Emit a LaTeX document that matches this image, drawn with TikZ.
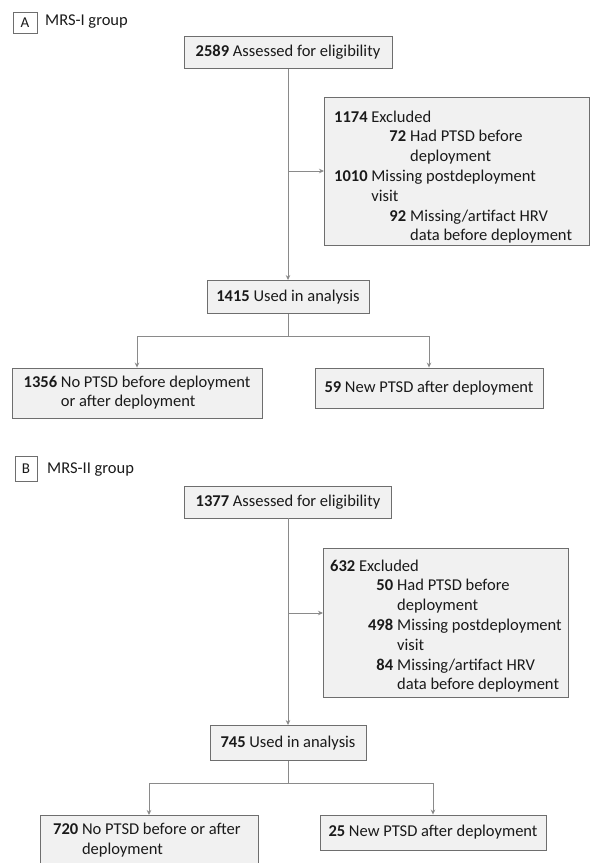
\documentclass[tikz,border=0pt]{standalone}
\usepackage{fontspec}
\setmainfont{Carlito}
\usetikzlibrary{arrows.meta}
\definecolor{txt}{HTML}{1A1A1A}
\definecolor{bordc}{HTML}{6E6E6E}
\definecolor{boxfill}{HTML}{F1F1F1}
\definecolor{linec}{HTML}{8A8A8A}
\begin{document}
\begin{tikzpicture}[x=1pt,y=-1pt,
  font=\fontsize{16.5}{19.5}\selectfont,
  box/.style={draw=bordc, line width=0.9pt, fill=boxfill, inner sep=0pt, align=center, text=txt},
  lab/.style={draw=bordc, line width=0.9pt, fill=white, inner sep=0pt, text=txt, font=\fontsize{15}{17}\selectfont},
  plain/.style={inner sep=0pt, text=txt},
  exc/.style={plain, font=\fontsize{16.5}{19.8}\selectfont},
  conn/.style={draw=linec, line width=0.9pt},
  arr/.style={conn, -{Stealth[length=5pt,width=4.5pt]}}]
\useasboundingbox (0,0) rectangle (591,863);
% ---------- Panel A ----------
\node[lab, minimum width=24, minimum height=21] (la) at (25,22.5) {A};
\node[plain, anchor=west] (ta) at (45,21.5) {MRS-I group};
\node[box, minimum width=208, minimum height=32] (a1) at (288,52.5) {\textbf{2589} Assessed for eligibility};
\node[box, minimum width=265, minimum height=148, anchor=north west] (a2) at (324,97) {};
\node[exc, anchor=north west] (a2t) at (334,108) {%
\begin{tabular}{@{}r@{\hspace{4pt}}l@{}}
\multicolumn{2}{@{}l@{}}{\textbf{1174} Excluded}\\
\makebox[72pt][r]{\textbf{72}} & Had PTSD before\\
 & deployment\\
\multicolumn{2}{@{}l@{}}{\textbf{1010} Missing postdeployment}\\
\multicolumn{2}{@{}l@{}}{\phantom{\textbf{1010} }visit}\\
\textbf{92} & Missing/artifact HRV\\
 & data before deployment
\end{tabular}};
\node[box, minimum width=162, minimum height=33] (a3) at (288,297) {\textbf{1415} Used in analysis};
\node[box, minimum width=250, minimum height=50] (a4) at (137,393) {%
\begin{tabular}{@{}r@{ }l@{}}\textbf{1356} & No PTSD before deployment\\ & or after deployment\end{tabular}};
\node[box, minimum width=228, minimum height=40] (a5) at (429,388) {\textbf{59} New PTSD after deployment};
\coordinate (ja) at (288,171);
\draw[arr] (a1.south) -- (a3.north);
\draw[arr] (ja) -- (ja -| a2.west);
\draw[conn] (a3.south) -- ++(0,22) coordinate (sa);
\draw[arr] (sa) -| (a4.north);
\draw[arr] (sa) -| (a5.north);
% ---------- Panel B ----------
\node[lab, minimum width=22, minimum height=25] (lb) at (26,468.5) {B};
\node[plain, anchor=west] (tb) at (47,469.5) {MRS-II group};
\node[box, minimum width=207, minimum height=32] (b1) at (288,502) {\textbf{1377} Assessed for eligibility};
\node[box, minimum width=245, minimum height=149, anchor=north west] (b2) at (323,548) {};
\node[exc, anchor=north west] (b2t) at (330,557) {%
\begin{tabular}{@{}r@{\hspace{4pt}}l@{}}
\multicolumn{2}{@{}l@{}}{\textbf{632} Excluded}\\
\makebox[63pt][r]{\textbf{50}} & Had PTSD before\\
 & deployment\\
\textbf{498} & Missing postdeployment\\
 & visit\\
\textbf{84} & Missing/artifact HRV\\
 & data before deployment
\end{tabular}};
\node[box, minimum width=156, minimum height=35] (b3) at (288,743) {\textbf{745} Used in analysis};
\node[box, minimum width=218, minimum height=56, anchor=north] (b4) at (149,815) {};
\node[plain, anchor=north west] (b4t) at (53,821) {%
\begin{tabular}{@{}r@{ }l@{}}\textbf{720} & No PTSD before or after\\ & deployment\end{tabular}};
\node[box, minimum width=226, minimum height=35] (b5) at (433,832.5) {\textbf{25} New PTSD after deployment};
\coordinate (jb) at (288,613);
\draw[arr] (b1.south) -- (b3.north);
\draw[arr] (jb) -- (jb -| b2.west);
\draw[conn] (b3.south) -- ++(0,22) coordinate (sb);
\draw[arr] (sb) -| (b4.north);
\draw[arr] (sb) -| (b5.north);
\end{tikzpicture}
\end{document}
